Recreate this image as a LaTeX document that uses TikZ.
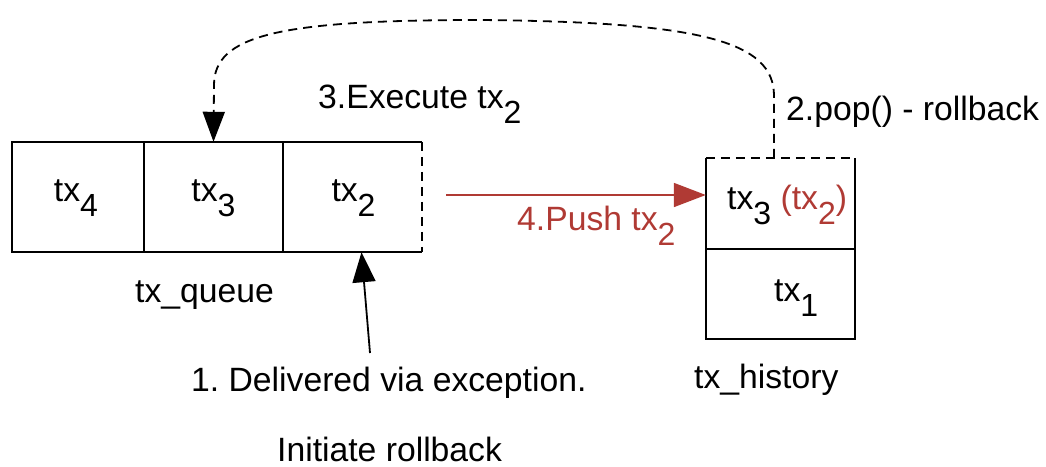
\documentclass[tikz,border=0pt]{standalone}
\usepackage{fontspec}
\setmainfont{Liberation Sans}
\usetikzlibrary{arrows.meta}

\definecolor{pushred}{RGB}{176,58,52}

% lowered index after "tx", set nearly at text size
\newcommand{\lowidx}[1]{\raisebox{-15.5pt}{\fontsize{32}{32}\selectfont #1}}

\tikzset{
  edge/.style={line width=1.8pt},
  dashedge/.style={line width=1.8pt, dash pattern=on 9pt off 6pt},
  cellbox/.style={inner sep=0pt, minimum height=#1},
  txt/.style={inner sep=0pt, anchor=base west},
  ctxt/.style={inner sep=0pt, anchor=base},
  blackarrow/.style={line width=1.8pt, -{Triangle[length=30pt,width=23pt]}},
  redarrow/.style={line width=1.8pt, draw=pushred, -{Triangle[length=32pt,width=24pt]}, color=pushred},
  looparrow/.style={line width=1.8pt, dash pattern=on 9pt off 6pt, -{Triangle[length=30pt,width=22pt]}},
}

\begin{document}
\frenchspacing
\begin{tikzpicture}[x=1pt,y=-1pt,font=\fontsize{33.7}{40}\selectfont]
\useasboundingbox (0,0) rectangle (1046,466);

% tx_queue cells
\node[cellbox=110pt, minimum width=132pt] (q4) at (78,197) {};
\node[cellbox=110pt, minimum width=139pt] (q3) at (213.5,197) {};
\node[cellbox=110pt, minimum width=139pt] (q2) at (352.5,197) {};
\draw[edge] (q2.north east) -- (q4.north west) -- (q4.south west) -- (q2.south east);
\draw[edge] (q3.north west) -- (q3.south west);
\draw[edge] (q3.north east) -- (q3.south east);
\draw[dashedge] (q2.north east) -- (q2.south east);

\node[ctxt] (l4) at (76,201) {tx\lowidx{4}};
\node[ctxt] (l3) at (213.5,201) {tx\lowidx{3}};
\node[ctxt] (l2) at (353.5,201) {tx\lowidx{2}};
\node[txt] (qname) at (135,302) {tx\_queue};

% tx_history stack
\node[cellbox=91pt, minimum width=149pt] (h3) at (780.5,203.5) {};
\node[cellbox=90pt, minimum width=149pt] (h1) at (780.5,294) {};
\draw[edge] (h3.north west) -- (h1.south west) -- (h1.south east) -- (h3.north east);
\draw[edge] (h3.south west) -- (h3.south east);
\draw[dashedge] (h3.north west) -- (h3.north east);

\node[txt] (lh3) at (727,209) {tx\lowidx{3} \textcolor{pushred}{(tx\lowidx{2})}};
\node[txt] (lh1) at (774,301) {tx\lowidx{1}};
\node[txt] (hname) at (694,388) {tx\_history};

% step labels
\node[txt] (s1) at (191,391) {1. Delivered via exception.};
\node[txt] (s1b) at (277,461) {Initiate rollback};
\node[txt] (s2) at (786,120) {2.pop() - rollback};
\node[txt] (s3) at (318,108) {3.Execute tx\lowidx{2}};
\node[txt, text=pushred] (s4) at (517,230) {4.Push tx\lowidx{2}};

% connectors
\coordinate (exc) at (370,353);
\draw[blackarrow] (exc) -- ([xshift=9pt]q2.south);

\draw[redarrow] ([xshift=24pt,yshift=2pt]q2.east) -- ([yshift=8.5pt]h3.west);

\draw[looparrow] ([xshift=-6.5pt]h3.north) -- ++(0,-62)
  .. controls ++(0,-55) and (700,22) .. (480,20)
  .. controls (280,20) and (214,35) .. (214,85)
  -- (q3.north);
\end{tikzpicture}
\end{document}
